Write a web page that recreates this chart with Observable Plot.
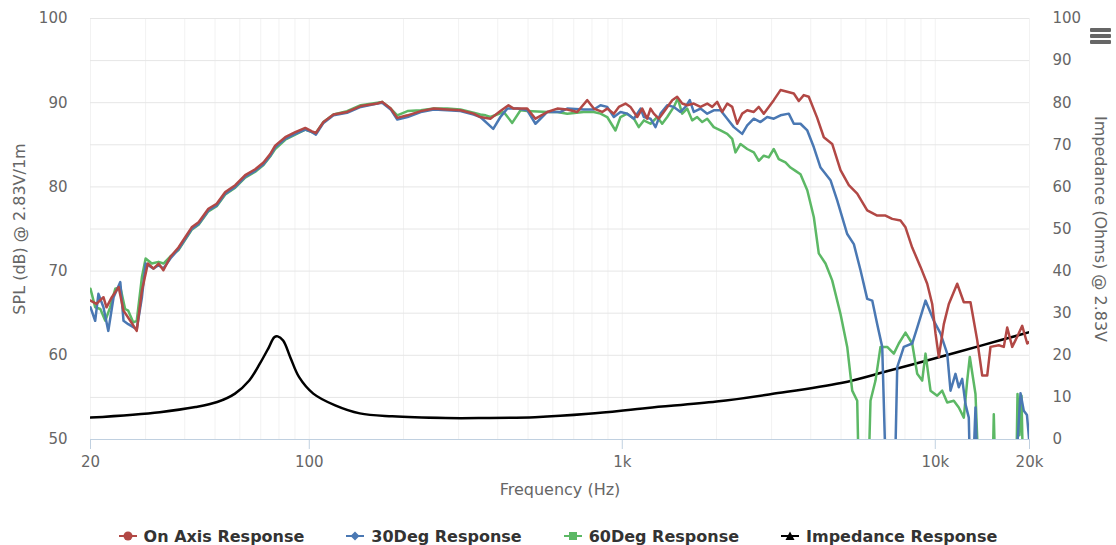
<!DOCTYPE html>
<html>
<head>
<meta charset="utf-8">
<script src="https://cdn.jsdelivr.net/npm/d3@7"></script>
<script src="https://cdn.jsdelivr.net/npm/@observablehq/plot@0.6"></script>
<style>
  html, body { margin: 0; padding: 0; background: #fff; }
  #wrap { position: relative; width: 1116px; height: 545px; overflow: hidden; font-family: "DejaVu Sans", sans-serif; }
  #legend { position: absolute; left: 0; top: 526px; width: 1116px; height: 20px; display: flex; justify-content: center; align-items: center; gap: 42px; }
  .item { display: flex; align-items: center; gap: 7px; font-weight: bold; font-size: 16px; color: #333; white-space: nowrap; }
  #menu { position: absolute; left: 1090px; top: 28px; width: 21px; }
  #menu div { height: 3.5px; background: #666; border-radius: 1px; margin-bottom: 2.5px; }
</style>
</head>
<body>
<div id="wrap">
  <div id="chart"></div>
  <div id="legend"></div>
  <div id="menu"><div></div><div></div><div></div></div>
</div>
<script>
// ---------- data ----------
const seriesNames = ["On Axis Response", "30Deg Response", "60Deg Response", "Impedance Response"];
const seriesColors = ["#B24845", "#4A78B3", "#5CB865", "#000000"];

const onAxisFreq = [20, 20.9, 22.0, 22.5, 23.4, 24.6, 25.5, 26.8, 28.1, 29.2,
  30.5, 31.8, 33.0, 34.2, 36.0, 38.2, 42.1, 44.3, 47.6, 50.6,
  53.9, 58.0, 62.4, 67.2, 71.4, 75.0, 77.8, 83.8, 90.2, 97.1,
  102, 105, 111, 119.5, 132, 146, 165, 171, 182, 191,
  206, 227, 250, 276, 304, 335, 352, 379, 408, 433,
  450, 497, 528, 576, 620, 667, 718, 773, 811, 863,
  895, 940, 975, 1024, 1062, 1116, 1158, 1201, 1231, 1261,
  1308, 1357, 1444, 1497, 1554, 1612, 1692, 1778, 1868, 1938,
  2010, 2086, 2164, 2245, 2329, 2416, 2507, 2632, 2730, 2832,
  2938, 3048, 3203, 3365, 3532, 3664, 3801, 3943, 4195, 4404,
  4684, 4980, 5294, 5631, 6061, 6524, 6934, 7284, 7742, 8032,
  8438, 8970, 9424, 9776, 10018, 10264, 10648, 11048, 11750, 12336,
  12958, 13612, 14124, 14654, 15012, 15958, 16556, 16976, 17610, 18270,
  18956, 19666, 20000];
const onAxisDb = [66.5, 66.1, 66.9, 65.7, 66.9, 68.1, 65.3, 64.1, 62.9, 67.7,
  70.9, 70.3, 70.9, 70.1, 71.7, 72.8, 75.2, 75.8, 77.4, 78.0,
  79.4, 80.2, 81.4, 82.1, 82.9, 83.9, 84.9, 85.9, 86.5, 87.0,
  86.6, 86.4, 87.7, 88.6, 88.9, 89.6, 89.9, 90.1, 89.3, 88.2,
  88.5, 89.0, 89.3, 89.2, 89.1, 88.7, 88.3, 88.1, 89.0, 89.7,
  89.3, 89.3, 88.1, 88.9, 89.3, 89.2, 88.9, 90.3, 89.3, 88.9,
  89.3, 88.7, 89.5, 89.9, 89.5, 88.3, 89.3, 88.1, 89.3, 88.7,
  88.1, 88.9, 90.3, 90.7, 89.9, 89.7, 89.9, 89.5, 89.9, 89.5,
  90.1, 88.9, 89.9, 89.5, 87.5, 88.7, 89.1, 88.9, 89.5, 88.7,
  89.5, 90.3, 91.5, 91.3, 91.1, 90.2, 90.9, 90.7, 88.2, 85.9,
  85.1, 82.0, 80.2, 79.2, 77.2, 76.6, 76.6, 76.2, 76.0, 75.2,
  72.8, 70.5, 68.5, 66.1, 62.6, 59.8, 63.7, 66.1, 68.5, 66.3,
  66.3, 61.8, 57.6, 57.6, 61.0, 61.2, 61.0, 63.3, 61.0, 62.2,
  63.5, 61.4, 61.6];

const deg30Freq = [20, 20.7, 21.2, 22.0, 22.8, 23.7, 24.9, 25.5, 26.4, 28.1,
  29.2, 30.0, 31.8, 33.0, 34.2, 36.0, 38.2, 42.1, 44.3, 47.6,
  50.6, 53.9, 58.0, 62.4, 67.2, 71.4, 75.0, 77.8, 83.8, 90.2,
  97.1, 102, 105, 111, 119.5, 132, 146, 165, 171, 182,
  191, 206, 227, 250, 276, 304, 335, 352, 387, 408,
  429, 462, 497, 528, 576, 635, 667, 753, 811, 852,
  895, 940, 987, 1037, 1089, 1144, 1172, 1231, 1277, 1325,
  1392, 1461, 1535, 1592, 1643, 1692, 1778, 1868, 1960, 2060,
  2164, 2272, 2416, 2507, 2632, 2764, 2904, 3048, 3203, 3404,
  3532, 3710, 3900, 4093, 4299, 4626, 4860, 5232, 5493, 5770,
  6061, 6289, 6524, 6768, 7022, 7373, 7559, 7934, 8438, 8756,
  9307, 9893, 10390, 10918, 11186, 11602, 11888, 12190, 12488, 12796,
  13022, 13442, 13772, 17650, 18720, 19180, 19630, 20000];
const deg30Db = [65.7, 64.1, 67.3, 65.7, 62.9, 66.9, 68.7, 64.1, 63.7, 63.1,
  66.9, 70.9, 70.3, 70.7, 70.3, 71.5, 72.6, 75.0, 75.6, 77.2,
  77.8, 79.2, 80.0, 81.2, 81.9, 82.7, 83.7, 84.7, 85.7, 86.3,
  86.8, 86.5, 86.2, 87.6, 88.5, 88.8, 89.5, 89.9, 90.0, 89.2,
  88.0, 88.3, 88.9, 89.2, 89.1, 89.0, 88.6, 88.3, 86.9, 88.3,
  89.3, 89.3, 89.1, 87.5, 88.9, 88.9, 89.3, 89.2, 89.2, 89.7,
  89.5, 88.3, 88.9, 88.7, 88.1, 89.3, 88.3, 88.1, 87.1, 88.7,
  89.7, 89.5, 88.9, 89.5, 90.3, 88.9, 89.3, 88.7, 89.1, 89.1,
  88.1, 87.1, 86.3, 87.3, 88.1, 87.7, 88.3, 88.1, 88.5, 88.7,
  87.5, 87.5, 86.7, 84.7, 82.3, 80.8, 78.4, 74.4, 73.2, 70.1,
  66.7, 66.5, 63.7, 61.0, 40, 40, 58.6, 61.0, 61.4, 63.3,
  66.5, 64.1, 62.6, 60.2, 55.8, 57.8, 56.2, 57.2, 54.2, 52.6,
  40, 53.8, 40, 40, 55.5, 53.4, 52.9, 49.5];

const deg60Freq = [20, 20.7, 21.5, 22.3, 23.1, 24.0, 24.9, 25.8, 26.4, 27.4,
  28.1, 29.2, 30.0, 31.4, 33.0, 34.2, 35.9, 38.2, 42.1, 44.3,
  47.6, 50.6, 53.9, 58.0, 62.4, 67.2, 71.4, 75.0, 77.8, 83.8,
  90.2, 97.1, 102, 105, 111, 119.5, 132, 146, 165, 171,
  182, 191, 206, 227, 250, 276, 304, 335, 352, 366,
  379, 418, 445, 473, 497, 576, 620, 667, 753, 811,
  852, 895, 951, 987, 1037, 1089, 1129, 1172, 1231, 1293,
  1341, 1392, 1461, 1504, 1554, 1612, 1672, 1735, 1801, 1868,
  1960, 2060, 2164, 2245, 2300, 2386, 2507, 2632, 2730, 2832,
  2938, 3048, 3162, 3322, 3446, 3576, 3710, 3900, 4093, 4244,
  4460, 4684, 4980, 5232, 5428, 5631, 5740, 6061, 6209, 6442,
  6683, 7022, 7373, 7646, 8032, 8438, 8756, 9082, 9307, 9656,
  10142, 10522, 10918, 11458, 11888, 12336, 12648, 12892, 13442, 13950,
  15124, 15380, 15692, 18044, 18312, 18586, 18858, 19208, 20000];
const deg60Db = [67.9, 65.7, 65.5, 64.1, 65.7, 67.9, 68.1, 65.5, 65.3, 63.9,
  64.1, 69.3, 71.5, 70.9, 71.1, 70.9, 71.7, 72.5, 74.9, 75.5,
  77.1, 77.7, 79.1, 79.9, 81.1, 81.8, 82.6, 83.6, 84.5, 85.6,
  86.2, 86.8, 86.5, 86.4, 87.7, 88.6, 89.0, 89.7, 90.0, 90.1,
  89.3, 88.5, 89.0, 89.1, 89.3, 89.3, 89.2, 88.8, 88.6, 88.5,
  88.3, 88.9, 87.6, 89.1, 89.0, 88.9, 88.9, 88.7, 88.9, 88.9,
  88.7, 88.3, 86.7, 88.3, 88.7, 88.1, 87.1, 87.9, 87.5, 88.3,
  87.5, 88.3, 89.5, 90.5, 88.7, 89.3, 87.9, 88.3, 87.7, 88.1,
  87.1, 86.7, 86.3, 85.7, 84.1, 85.1, 84.5, 84.1, 83.1, 83.7,
  83.5, 84.5, 83.3, 82.9, 82.3, 81.9, 81.5, 79.6, 76.4, 72.1,
  70.9, 68.9, 64.9, 61.0, 55.8, 54.6, 40, 40, 54.6, 57.0,
  61.0, 61.0, 60.2, 61.4, 62.7, 61.4, 57.8, 57.0, 60.2, 55.8,
  55.2, 55.8, 54.4, 54.6, 53.8, 52.6, 57.0, 59.8, 55.4, 40,
  40, 53.0, 40, 40, 55.4, 50.5, 55.2, 40, 40];

const impedanceFreq = [20, 33.3, 43.3, 50.8, 57.9, 64.3, 69.5, 74.3, 77.3, 79.3,
  82.5, 87.0, 92.8, 103, 121, 145, 184, 273, 355, 526,
  780, 1203, 2000, 3000, 5000, 7000, 10000, 14000, 20000];
const impedanceOhms = [5.2, 6.5, 7.7, 8.9, 10.9, 14.0, 18.0, 21.9, 24.3, 24.5,
  23.5, 19.5, 14.8, 10.9, 8.1, 6.2, 5.5, 5.1, 5.1, 5.3,
  6.1, 7.5, 9.0, 10.8, 13.4, 16.2, 19.3, 22.3, 25.5];

const xTickValues = [20, 100, 1000, 10000, 20000];
const xTickLabels = ["20", "100", "1k", "10k", "20k"];
const splTicks = [50, 60, 70, 80, 90, 100];
const ohmTicks = [0, 10, 20, 30, 40, 50, 60, 70, 80, 90, 100];
const splDomain = [50, 100];
const ohmDomain = [0, 100];
const xDomain = [20, 20000];

// ---------- build ----------
const rows = (f, v) => f.map((x, i) => ({f: x, v: v[i]}));
const ohmToSpl = z => splDomain[0] + (z - ohmDomain[0]) * (splDomain[1] - splDomain[0]) / (ohmDomain[1] - ohmDomain[0]);
const splToOhm = s => ohmDomain[0] + (s - splDomain[0]) * (ohmDomain[1] - ohmDomain[0]) / (splDomain[1] - splDomain[0]);

const gridFreqs = [];
for (let dec = 10; dec <= 10000; dec *= 10) for (let m = 1; m <= 9; m++) { const v = m * dec; if (v >= 20 && v <= 20000) gridFreqs.push(v); }
gridFreqs.push(20000);
const gridSpl = d3.range(splDomain[0], splDomain[1] + 0.1, 5);

const W = 1116, H = 522;
const chart = Plot.plot({
  width: W, height: H,
  marginLeft: 90, marginRight: 87, marginTop: 18, marginBottom: H - 439,
  x: {type: "log", domain: xDomain},
  y: {domain: splDomain},
  style: {fontFamily: "'DejaVu Sans', sans-serif", fontSize: "15px", color: "#666", background: "#fff", overflow: "visible"},
  marks: [
    Plot.gridX(gridFreqs, {stroke: "#f2f2f2", strokeOpacity: 1, strokeWidth: 1}),
    Plot.gridY(gridSpl, {stroke: "#e6e6e6", strokeOpacity: 1, strokeWidth: 1}),
    Plot.axisY(splTicks, {anchor: "left", tickSize: 0, tickPadding: 23, label: null, fill: "#666", fontSize: 15}),
    Plot.axisY(ohmTicks.map(ohmToSpl), {anchor: "right", tickSize: 0, tickPadding: 23, label: null, fill: "#666", fontSize: 15, tickFormat: s => String(Math.round(splToOhm(s)))}),
    Plot.ruleY([splDomain[0]], {stroke: "#C0D0E0", strokeWidth: 1}),
    Plot.axisX(xTickValues, {anchor: "bottom", tickSize: 10, tickPadding: 7, stroke: "#C0D0E0", fill: "#666", fontSize: 15, label: null, tickFormat: d => xTickLabels[xTickValues.indexOf(d)]}),
    Plot.line(rows(impedanceFreq, impedanceOhms.map(ohmToSpl)), {x: "f", y: "v", stroke: seriesColors[3], strokeWidth: 2.5, curve: "catmull-rom", clip: true}),
    Plot.line(rows(deg60Freq, deg60Db), {x: "f", y: "v", stroke: seriesColors[2], strokeWidth: 2.5, clip: true}),
    Plot.line(rows(deg30Freq, deg30Db), {x: "f", y: "v", stroke: seriesColors[1], strokeWidth: 2.5, clip: true}),
    Plot.line(rows(onAxisFreq, onAxisDb), {x: "f", y: "v", stroke: seriesColors[0], strokeWidth: 2.5, clip: true}),
    Plot.text(["SPL (dB) @ 2.83V/1m"], {frameAnchor: "left", dx: -71, rotate: -90, textAnchor: "middle", fill: "#666", fontSize: 16}),
    Plot.text(["Impedance (Ohms) @ 2.83V"], {frameAnchor: "right", dx: 71, rotate: 90, textAnchor: "middle", fill: "#666", fontSize: 16}),
    Plot.text(["Frequency (Hz)"], {frameAnchor: "bottom", dy: 55, textAnchor: "middle", fill: "#666", fontSize: 16})
  ]
});
document.getElementById("chart").appendChild(chart);

// ---------- legend ----------
const symbols = ["circle", "diamond", "square", "triangle"];
const legend = document.getElementById("legend");
seriesNames.forEach((name, i) => {
  const c = seriesColors[i];
  let shape = "";
  if (symbols[i] === "circle") shape = `<circle cx="9" cy="6" r="4.5" fill="${c}"/>`;
  if (symbols[i] === "diamond") shape = `<path d="M9 1.5 L13.5 6 L9 10.5 L4.5 6 Z" fill="${c}"/>`;
  if (symbols[i] === "square") shape = `<rect x="5" y="2" width="8" height="8" fill="${c}"/>`;
  if (symbols[i] === "triangle") shape = `<path d="M9 1.5 L13.5 10 L4.5 10 Z" fill="${c}"/>`;
  const el = document.createElement("div");
  el.className = "item";
  el.innerHTML = `<svg width="18" height="12"><line x1="0" y1="6" x2="18" y2="6" stroke="${c}" stroke-width="2"/>${shape}</svg><span>${name}</span>`;
  legend.appendChild(el);
});
</script>
</body>
</html>
